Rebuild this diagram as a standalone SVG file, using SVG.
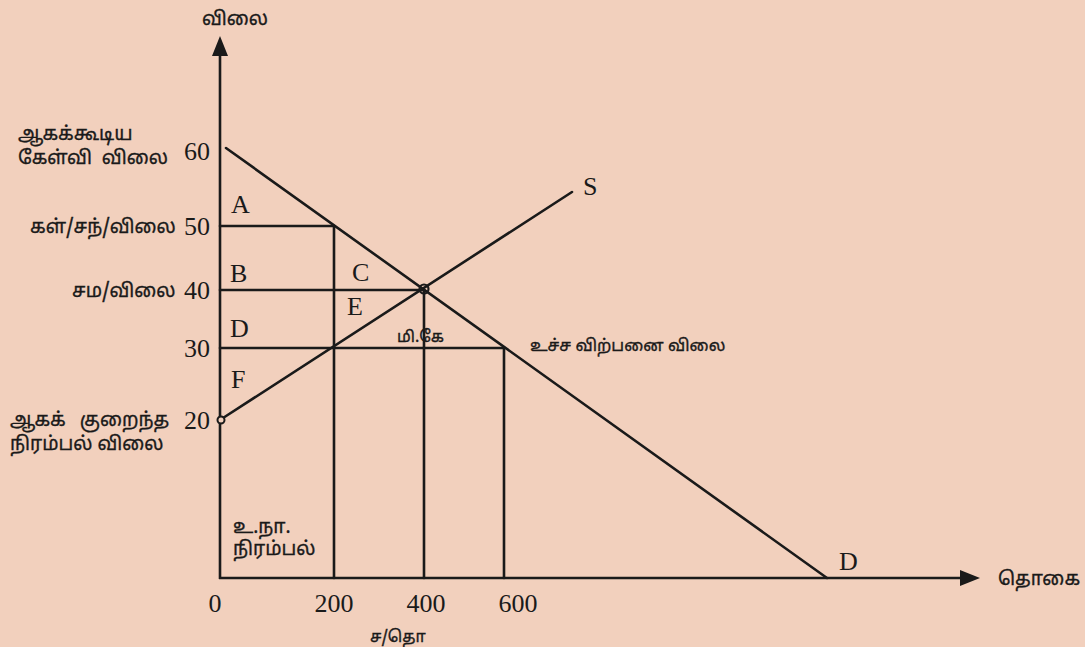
<svg xmlns="http://www.w3.org/2000/svg" width="1085" height="647" viewBox="0 0 1085 647">
<defs>
<style>
.ln{stroke:#1a1a1a;stroke-width:2.6;fill:none;stroke-linecap:round}
.ax{stroke:#1a1a1a;stroke-width:2.6;fill:none}
.lat{font-family:"Liberation Serif","Times New Roman",serif;font-size:26px;fill:#1a1a1a}
.ta{font-family:"Noto Sans Tamil","Noto Sans","Lohit Tamil",sans-serif;font-size:19px;fill:#1a1a1a;stroke:#1a1a1a;stroke-width:0.35}
.sm{font-size:16px}
</style>
</defs>
<rect width="1085" height="647" fill="#f2d0bd"/>
<g id="axes">
<line class="ax" x1="220" y1="579" x2="220" y2="52"/>
<path d="M220,36 L212,56 L228,56 Z" fill="#1a1a1a"/>
<line class="ax" x1="219" y1="578" x2="962" y2="578"/>
<path d="M980,578 L960,570 L960,586 Z" fill="#1a1a1a"/>
</g>
<g id="connectors">
<line id="demand" class="ln" x1="226" y1="148" x2="827" y2="578"/>
<line id="supply" class="ln" x1="223" y1="418" x2="572" y2="192"/>
<line class="ln" x1="220" y1="226" x2="334" y2="226"/>
<line class="ln" x1="220" y1="290" x2="424" y2="290"/>
<line class="ln" x1="220" y1="348" x2="504" y2="348"/>
<line class="ln" x1="334" y1="226" x2="334" y2="578"/>
<line class="ln" x1="424" y1="290" x2="424" y2="578"/>
<line class="ln" x1="504" y1="348" x2="504" y2="578"/>
</g>
<g id="equilibrium">
<circle cx="424" cy="289" r="4.5" fill="none" stroke="#1a1a1a" stroke-width="2.2"/>
</g>
<g id="min-point">
<circle cx="221" cy="420" r="3.5" fill="#f2d0bd" stroke="#1a1a1a" stroke-width="2"/>
</g>
<g id="y-labels">
<text class="ta" x="235" y="25" text-anchor="middle">விலை</text>
<text class="ta" x="18" y="140">ஆகக்கூடிய</text>
<text class="ta" x="18" y="164" word-spacing="5">கேள்வி விலை</text>
<text class="lat" x="184" y="160">60</text>
<text class="ta" x="30" y="233">கள்/சந்/விலை</text>
<text class="lat" x="184" y="235">50</text>
<text class="ta" x="72" y="297">சம/விலை</text>
<text class="lat" x="184" y="299">40</text>
<text class="lat" x="184" y="357">30</text>
<text class="ta" x="10" y="426" word-spacing="9">ஆகக் குறைந்த</text>
<text class="ta" x="10" y="450">நிரம்பல் விலை</text>
<text class="lat" x="184" y="429">20</text>
</g>
<g id="area-labels">
<text class="lat" x="231" y="213">A</text>
<text class="lat" x="230" y="282">B</text>
<text class="lat" x="352" y="281">C</text>
<text class="lat" x="230" y="337">D</text>
<text class="lat" x="347" y="315">E</text>
<text class="lat" x="231" y="388">F</text>
<text class="ta sm" x="397" y="342">மி.கே</text>
<text class="ta" x="530" y="351" style="font-size:16.5px">உச்ச விற்பனை விலை</text>
<text class="lat" x="583" y="195">S</text>
<text class="lat" x="839" y="570">D</text>
<text class="ta" x="233" y="533">உ.நா.</text>
<text class="ta" x="233" y="555">நிரம்பல்</text>
</g>
<g id="x-labels">
<text class="lat" x="215" y="612" text-anchor="middle">0</text>
<text class="lat" x="334" y="612" text-anchor="middle">200</text>
<text class="lat" x="426" y="612" text-anchor="middle">400</text>
<text class="lat" x="518" y="612" text-anchor="middle">600</text>
<text class="ta sm" x="370" y="642">ச/தொ</text>
<text class="ta" x="998" y="585">தொகை</text>
</g>
</svg>
